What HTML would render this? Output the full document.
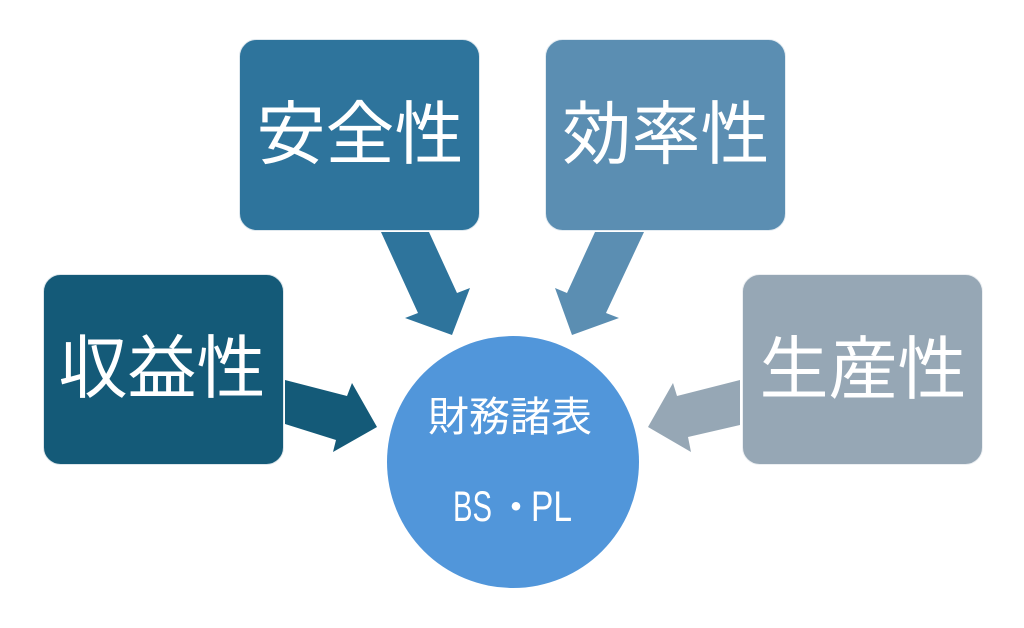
<!DOCTYPE html>
<html>
<head>
<meta charset="utf-8">
<style>
html,body{margin:0;padding:0;background:#fff;}
svg{display:block;}
text{font-family:"Liberation Sans","Noto Sans CJK JP",sans-serif;fill:#fff;}
.j{font-family:"Noto Sans CJK JP","Liberation Sans",sans-serif;}
</style>
</head>
<body>
<svg width="1024" height="628" viewBox="0 0 1024 628" xmlns="http://www.w3.org/2000/svg">
  <rect width="1024" height="628" fill="#fff"/>
  <!-- boxes -->
  <rect x="239.5" y="39.5" width="240" height="191" rx="17" fill="#2e749c" stroke="#dfe8ee" stroke-width="1"/>
  <rect x="545.5" y="39.5" width="240" height="191" rx="17" fill="#5b8eb2" stroke="#e4ecf2" stroke-width="1"/>
  <rect x="43.5" y="274.5" width="240" height="190" rx="17" fill="#145a78" stroke="#dde6eb" stroke-width="1"/>
  <rect x="742.5" y="274.5" width="240" height="190" rx="17" fill="#96a7b5" stroke="#eceff2" stroke-width="1"/>
  <!-- arrows -->
  <polygon points="285,380 347,396 352,383 377,427 333,452 336,440 285,424" fill="#145a78"/>
  <polygon points="381,232 429,232 457,293 470,288 452,335 405,318 418,313" fill="#2e749c"/>
  <polygon points="595,232 644,232 606,313 619,318 572,335 555,288 567,293" fill="#5b8eb2"/>
  <polygon points="740,380 677,396 673,383 648,427 691,452 688,437 740,425" fill="#96a7b5"/>
  <!-- circle -->
  <circle cx="513" cy="462" r="126" fill="#5196da"/>
  <!-- labels -->
  <text class="j" x="360" y="158" font-size="69" text-anchor="middle">安全性</text>
  <text class="j" x="666" y="158" font-size="69" text-anchor="middle">効率性</text>
  <text class="j" x="162" y="392" font-size="69" text-anchor="middle">収益性</text>
  <text class="j" x="863" y="393" font-size="69" text-anchor="middle">生産性</text>
  <text class="j" x="510" y="431" font-size="41" text-anchor="middle">財務諸表</text>
  <text transform="translate(453,521) scale(0.68,1)" font-size="43">BS</text>
  <text class="j" x="516" y="521" font-size="40" text-anchor="middle">・</text>
  <text transform="translate(531,521) scale(0.78,1)" font-size="43">PL</text>
</svg>
</body>
</html>
